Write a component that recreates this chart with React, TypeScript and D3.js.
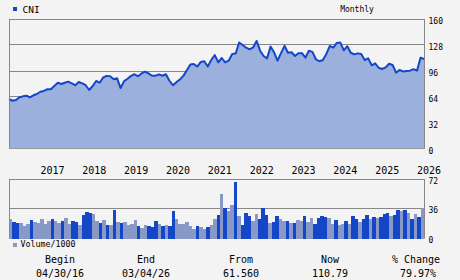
import React from 'react';
import * as d3 from 'd3';

// ---- data ----
const months: string[] = d3.range(120).map((i) => d3.timeFormat('%Y-%m')(new Date(2016, 3 + i, 1)));

const price: number[] = [
  61.56, 59.4, 60.3, 63.6, 64.8, 65.6, 63.6, 66.1, 67.7, 70.5,
  71.5, 73.5, 73.5, 77.5, 81.6, 80, 81.6, 82.9, 80.8, 78.5,
  82.5, 80.8, 78.5, 72.6, 77.5, 83.7, 81.6, 88, 90, 89.5,
  85.8, 87, 75, 83.5, 86.5, 90, 92, 89.5, 93, 95.2,
  93, 90.2, 90.2, 91.9, 90.2, 92, 84, 78.5, 82.3, 85.5,
  90, 97, 104, 104.5, 101.5, 107.2, 108, 101.5, 109.5, 115.5,
  106.7, 112, 106.5, 108.7, 116.9, 117.5, 131, 128, 124.7, 122.7,
  125, 133, 121, 114.5, 111.6, 126, 119, 108.7, 118, 127,
  118.5, 119, 114.5, 117.9, 118, 112.5, 121, 119.5, 110.4, 108,
  109.5, 117, 126.8, 124.7, 130.5, 131, 121.5, 126.5, 118.5, 116.5,
  117.7, 116.9, 109.5, 111.5, 103, 105.5, 100, 98.5, 100.5, 105,
  103.4, 94, 97.2, 95.5, 96, 96.4, 98.3, 96.4, 112.4, 110.79,
];

const volume: number[] = [
  23.9, 20.2, 19, 19, 15.8, 17.8, 22.7, 20.2, 19, 23.9,
  17.8, 21.5, 23.9, 21.5, 19, 21.5, 25.1, 17.8, 21.5, 20.2,
  16.6, 28.7, 32.4, 31.2, 29.9, 21.5, 19, 22.7, 16.6, 16.6,
  34.8, 20.2, 19, 20.2, 16.6, 17.8, 22.7, 15.4, 13, 16.6,
  15.4, 14.2, 21.5, 17.8, 15.4, 16.6, 15.4, 33.6, 23.9, 17.8,
  17.8, 20.2, 15.4, 11.8, 15.4, 14.2, 11.8, 14.2, 16.6, 23.9,
  28.7, 54.2, 37.2, 33.6, 40.8, 68.7, 27.5, 16.6, 31.2, 27.5,
  21.5, 29.9, 23.9, 37.2, 28.7, 19, 20.2, 27.5, 23.9, 21.5,
  21.5, 19, 19, 22.7, 21.5, 27.5, 20.2, 25.1, 17.8, 25.1,
  27.5, 26.5, 25.1, 17.8, 22.7, 16.6, 17.8, 21.5, 17.8, 27.5,
  23.9, 20.2, 23.9, 28.7, 23.9, 26.3, 25.1, 26.3, 29.9, 31.2,
  27.5, 28.7, 34.4, 33.6, 34.4, 31.2, 23.9, 29.9, 26.3, 37.2,
];

// 1 = dark bar, 0 = light bar
const volDark: number[] = [
  0, 1, 1, 0, 0, 0, 1, 0, 0, 0,
  0, 0, 1, 0, 0, 1, 0, 0, 1, 1,
  0, 1, 1, 1, 0, 0, 1, 0, 1, 0,
  1, 0, 1, 0, 0, 0, 0, 1, 0, 0,
  1, 1, 1, 0, 1, 0, 1, 1, 0, 0,
  0, 0, 0, 0, 1, 0, 0, 1, 0, 0,
  1, 0, 1, 0, 0, 1, 0, 1, 1, 1,
  0, 0, 1, 1, 1, 0, 1, 1, 0, 0,
  1, 0, 1, 0, 0, 1, 0, 0, 1, 1,
  1, 1, 0, 0, 1, 0, 0, 1, 0, 1,
  1, 0, 1, 1, 0, 1, 0, 1, 1, 1,
  0, 1, 1, 0, 1, 0, 1, 0, 1, 0,
];

const priceTicks: number[] = [0, 32, 64, 96, 128, 160];
const volTicks: number[] = [0, 36, 72];
const yearLabels: string[] = ['2017', '2018', '2019', '2020', '2021', '2022', '2023', '2024', '2025', '2026'];

const statLabels: string[] = ['Begin', 'End', 'From', 'Now', '% Change'];
const statValues: string[] = ['04/30/16', '03/04/26', '61.560', '110.79', '79.97%'];
const statX: number[] = [60, 146, 241, 330, 416];

// ---- styles ----
const BG = '#f3f3f3';
const GRID = '#888888';
const DARK = '#1446c8';
const LIGHT = '#8899c8';
const AREA = '#9cb0de';
const FONT = '"DejaVu Sans Mono", monospace';

export default function App() {
  const L = 9;
  const R = 424;
  const x = d3.scalePoint<string>().domain(months).range([L, R]);
  const xb = d3.scaleBand<string>().domain(months).range([L, R]).padding(0);
  const y = d3.scaleLinear().domain([0, 160]).range([149, 19]);
  const yv = d3.scaleLinear().domain([0, 72]).range([238.6, 179]);

  const pts = months.map((m, i) => ({ m, v: price[i] }));
  const line = d3.line<{ m: string; v: number }>().x((d) => x(d.m)!).y((d) => y(d.v));
  const area = d3
    .area<{ m: string; v: number }>()
    .x((d) => x(d.m)!)
    .y0(y(0))
    .y1((d) => y(d.v));

  const px = (v: number) => Math.floor(v) + 0.5;

  return (
    <svg
      width={460}
      height={280}
      style={{ position: 'absolute', left: 0, top: 0, background: BG }}
      xmlns="http://www.w3.org/2000/svg"
    >
      <rect x={0} y={0} width={460} height={280} fill={BG} />

      {/* legend */}
      <rect x={13} y={7} width={4} height={4} fill={DARK} />
      <text x={22.5} y={12.7} fontFamily={FONT} fontSize={9.5} fill="#000">CNI</text>
      <text x={357} y={12} fontFamily={FONT} fontSize={8} textAnchor="middle" fill="#000">Monthly</text>

      {/* price grid */}
      {priceTicks.filter((t) => t > 0 && t < 160).map((t) => (
        <line key={t} x1={L} x2={R} y1={px(y(t))} y2={px(y(t))} stroke={GRID} strokeWidth={1} />
      ))}

      <path d={area(pts)!} fill={AREA} />
      <path d={line(pts)!} fill="none" stroke={DARK} strokeWidth={2} strokeLinejoin="round" />

      {/* price frame */}
      <line x1={L} x2={R + 1} y1={px(y(160))} y2={px(y(160))} stroke={GRID} />
      <line x1={L + 0.5} x2={L + 0.5} y1={y(160)} y2={149} stroke={GRID} />
      <line x1={R + 0.5} x2={R + 0.5} y1={y(160)} y2={149} stroke={GRID} />
      <line x1={L} x2={R + 1} y1={148.5} y2={148.5} stroke="#999" />

      {priceTicks.map((t) => (
        <text key={t} x={428.5} y={y(t) + 4.5} fontFamily={FONT} fontSize={8} fill="#000">{t}</text>
      ))}

      {yearLabels.map((yr) => {
        const m = `${yr}-01`;
        return (
          <text key={yr} x={x(m)!} y={174} fontFamily={FONT} fontSize={10} fill="#000">{yr}</text>
        );
      })}

      {/* volume */}
      <line x1={L} x2={R + 1} y1={px(yv(36))} y2={px(yv(36))} stroke={GRID} />
      {months.map((m, i) => (
        <rect
          key={m}
          x={xb(m)!}
          y={yv(volume[i])}
          width={xb.bandwidth()}
          height={yv(0) - yv(volume[i])}
          fill={volDark[i] ? DARK : LIGHT}
          shapeRendering="crispEdges"
        />
      ))}
      <line x1={L} x2={R + 1} y1={px(yv(72))} y2={px(yv(72))} stroke={GRID} />
      <line x1={L + 0.5} x2={L + 0.5} y1={yv(72)} y2={yv(0)} stroke={GRID} />
      <line x1={R + 0.5} x2={R + 0.5} y1={yv(72)} y2={yv(0)} stroke={GRID} />
      {volTicks.map((t) => (
        <text key={t} x={428.5} y={yv(t) + 4.5} fontFamily={FONT} fontSize={8} fill="#000">{t}</text>
      ))}

      <rect x={13} y={243} width={4} height={4} fill={LIGHT} />
      <text x={20.5} y={247.3} fontFamily={FONT} fontSize={8.3} fill="#000">Volume/1000</text>

      {statLabels.map((s, i) => (
        <text key={s} x={statX[i]} y={263} fontFamily={FONT} fontSize={10} textAnchor="middle" fill="#000">{s}</text>
      ))}
      {statValues.map((s, i) => (
        <text key={s} x={statX[i] + (i === 4 ? 2 : 0)} y={276.5} fontFamily={FONT} fontSize={10} textAnchor="middle" fill="#000">{s}</text>
      ))}
    </svg>
  );
}
